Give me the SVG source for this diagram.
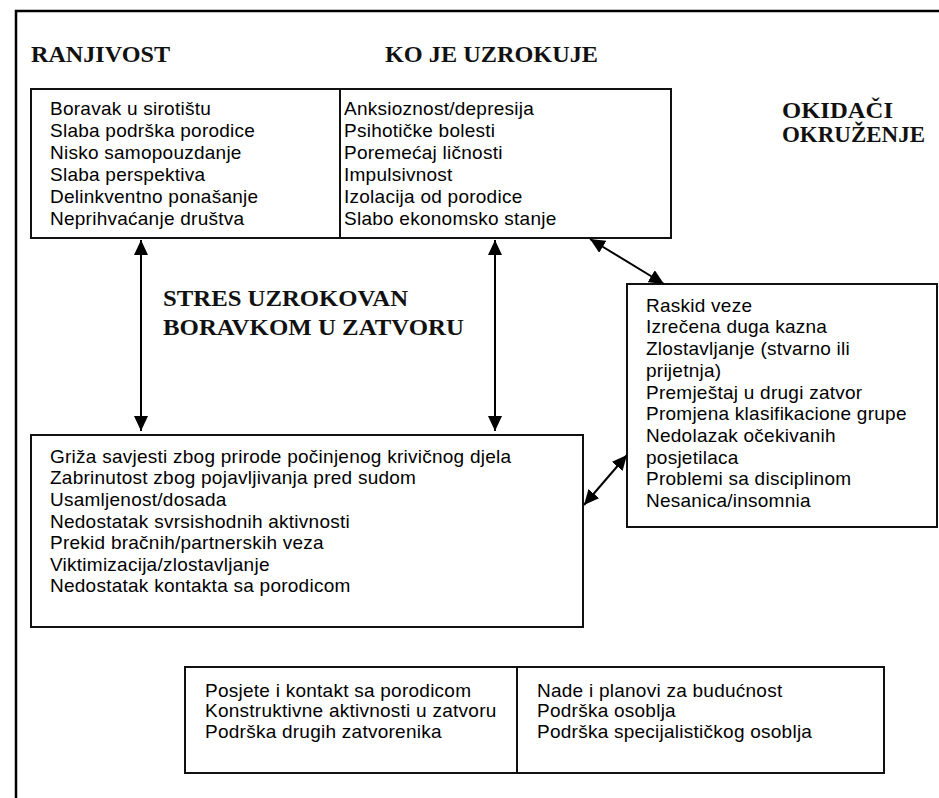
<svg xmlns="http://www.w3.org/2000/svg" width="939" height="798" viewBox="0 0 939 798">
<style>
.bx{fill:#fff;stroke:#111;stroke-width:2}
.t{font-family:"Liberation Sans",Arial,sans-serif;font-size:19px;letter-spacing:0.25px;fill:#000}
.h{font-family:"Liberation Serif","Times New Roman",serif;font-weight:bold;font-size:23px;fill:#111}
.c{stroke:#000;stroke-width:2;fill:none;marker-start:url(#ah);marker-end:url(#ah)}
</style>
<defs>
<marker id="ah" markerUnits="userSpaceOnUse" markerWidth="15" markerHeight="14" refX="15" refY="7" orient="auto-start-reverse" viewBox="0 0 15 14">
<path d="M0,0 L15,7 L0,14 z" fill="#000"/>
</marker>
</defs>
<rect width="939" height="798" fill="#fff"/>
<g id="frame">
<path d="M16,798 L16,11 L939,11" fill="none" stroke="#000" stroke-width="2.5"/>
</g>
<g id="headings">
<text class="h" x="31" y="62" textLength="139" lengthAdjust="spacingAndGlyphs">RANJIVOST</text>
<text class="h" x="385" y="62" textLength="213" lengthAdjust="spacingAndGlyphs">KO JE UZROKUJE</text>
<text class="h" x="782" y="118" textLength="111" lengthAdjust="spacingAndGlyphs">OKIDAČI</text>
<text class="h" x="782" y="142" textLength="143" lengthAdjust="spacingAndGlyphs">OKRUŽENJE</text>
<text class="h" x="163" y="306" textLength="245" lengthAdjust="spacingAndGlyphs" style="font-size:24px">STRES UZROKOVAN</text>
<text class="h" x="163" y="335" textLength="301" lengthAdjust="spacingAndGlyphs" style="font-size:24px">BORAVKOM U ZATVORU</text>
</g>
<g id="ranjivost">
<rect class="bx" x="31" y="89" width="309" height="149"/>
<text class="t" x="50" y="115">Boravak u sirotištu</text>
<text class="t" x="50" y="137">Slaba podrška porodice</text>
<text class="t" x="50" y="159">Nisko samopouzdanje</text>
<text class="t" x="50" y="181">Slaba perspektiva</text>
<text class="t" x="50" y="203">Delinkventno ponašanje</text>
<text class="t" x="50" y="225">Neprihvaćanje društva</text>
</g>
<g id="uzrokuje">
<rect class="bx" x="340" y="89" width="331" height="149"/>
<text class="t" x="344" y="115">Anksioznost/depresija</text>
<text class="t" x="344" y="137">Psihotičke bolesti</text>
<text class="t" x="344" y="159">Poremećaj ličnosti</text>
<text class="t" x="344" y="181">Impulsivnost</text>
<text class="t" x="344" y="203">Izolacija od porodice</text>
<text class="t" x="344" y="225">Slabo ekonomsko stanje</text>
</g>
<g id="okidaci">
<rect class="bx" x="627" y="284" width="310" height="243"/>
<text class="t" x="646" y="311.7">Raskid veze</text>
<text class="t" x="646" y="333.4">Izrečena duga kazna</text>
<text class="t" x="646" y="355.1">Zlostavljanje (stvarno ili</text>
<text class="t" x="646" y="376.8">prijetnja)</text>
<text class="t" x="646" y="398.5">Premještaj u drugi zatvor</text>
<text class="t" x="646" y="420.2">Promjena klasifikacione grupe</text>
<text class="t" x="646" y="441.9">Nedolazak očekivanih</text>
<text class="t" x="646" y="463.6">posjetilaca</text>
<text class="t" x="646" y="485.3">Problemi sa disciplinom</text>
<text class="t" x="646" y="507">Nesanica/insomnia</text>
</g>
<g id="stres">
<rect class="bx" x="31" y="435" width="552" height="192"/>
<text class="t" x="50" y="462.7">Griža savjesti zbog prirode počinjenog krivičnog djela</text>
<text class="t" x="50" y="484.3">Zabrinutost zbog pojavljivanja pred sudom</text>
<text class="t" x="50" y="505.9">Usamljenost/dosada</text>
<text class="t" x="50" y="527.5">Nedostatak svrsishodnih aktivnosti</text>
<text class="t" x="50" y="549.1">Prekid bračnih/partnerskih veza</text>
<text class="t" x="50" y="570.7">Viktimizacija/zlostavljanje</text>
<text class="t" x="50" y="592.3">Nedostatak kontakta sa porodicom</text>
</g>
<g id="zastita">
<rect class="bx" x="185" y="667" width="699" height="106"/>
<line x1="517" y1="667" x2="517" y2="773" stroke="#111" stroke-width="2"/>
<text class="t" x="205" y="696.7">Posjete i kontakt sa porodicom</text>
<text class="t" x="205" y="717.4">Konstruktivne aktivnosti u zatvoru</text>
<text class="t" x="205" y="738">Podrška drugih zatvorenika</text>
<text class="t" x="537" y="696.7">Nade i planovi za budućnost</text>
<text class="t" x="537" y="717.4">Podrška osoblja</text>
<text class="t" x="537" y="738">Podrška specijalističkog osoblja</text>
</g>
<g id="connectors">
<line class="c" x1="141" y1="240" x2="141" y2="431"/>
<line class="c" x1="495" y1="240" x2="495" y2="431"/>
<line class="c" x1="590" y1="239" x2="664" y2="284"/>
<line class="c" x1="584" y1="505" x2="627" y2="455"/>
</g>
</svg>
